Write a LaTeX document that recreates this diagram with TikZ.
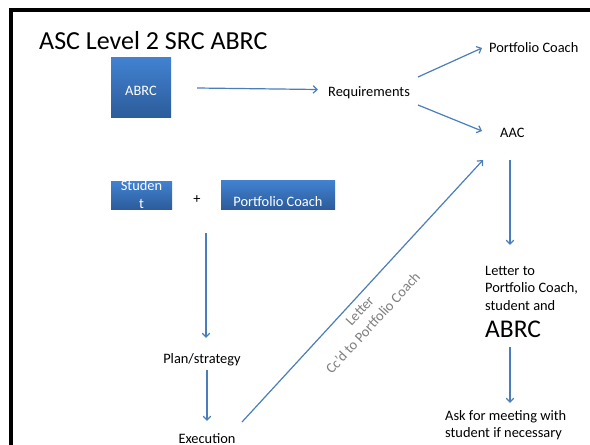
\documentclass[tikz,border=0pt]{standalone}
\usepackage{fontspec}
\setmainfont{Carlito}
\usetikzlibrary{arrows.meta,calc}
\definecolor{arr}{HTML}{4A7EBB}
\definecolor{boxtop}{HTML}{4282D2}
\definecolor{boxbot}{HTML}{2C5C9B}
\definecolor{lblgray}{HTML}{7F7F7F}
\tikzset{
  conn/.style={draw=arr, line width=1.2pt, -{Straight Barb[length=4pt,width=7.5pt]}},
  bluebox/.style={shade, top color=boxtop, bottom color=boxbot, text=white, inner sep=0pt, font=\fontsize{14.4}{18}\selectfont},
  txt/.style={inner sep=0pt, text=black, font=\fontsize{14.4}{17.5}\selectfont},
}
\begin{document}
\begin{tikzpicture}[x=1pt,y=-1pt]
\useasboundingbox (0,0) rectangle (590,445);
\fill[white] (0,0) rectangle (590,445);
% frame
\draw[line width=4pt, line join=miter] (11,445) -- (11,10) -- (590,10);
% title
\node[txt, anchor=base west, font=\fontsize{26}{30}\selectfont] (title) at (39,49.5) {ASC Level 2 SRC ABRC};
% boxes
\node[bluebox, minimum width=60pt, minimum height=60pt] (abrc) at (141,87) {\raisebox{-8.3pt}[0pt][0pt]{ABRC}};
\node[bluebox, minimum width=61pt, minimum height=28pt] (student) at (141.5,195) {\raisebox{5pt}[0pt][0pt]{\begin{tabular}[t]{@{}c@{}}Studen\\[0.5pt]t\end{tabular}}};
\node[bluebox, minimum width=114pt, minimum height=29pt] (pcbox) at (278,194.5) {\raisebox{-11.5pt}[0pt][0pt]{Portfolio Coach}};
\node[txt] (plus) at (197,200) {+};
% texts
\node[txt, anchor=base west] (req) at (328,96.5) {Requirements};
\node[txt, anchor=base west] (pc) at (489,52) {Portfolio Coach};
\node[txt, anchor=base west] (aac) at (500,137) {AAC};
\node[txt, anchor=base] (plan) at (202,363) {Plan/strategy};
\node[txt, anchor=base] (exec) at (207,443) {Execution};
\node[txt, anchor=base west] (letter) at (485,275) {\begin{tabular}[t]{@{}l@{}}Letter to\\Portfolio Coach,\\student and\\\rule{0pt}{22.5pt}{\fontsize{25.5}{28}\selectfont ABRC}\end{tabular}};
\node[txt, anchor=base west] (ask) at (445,420) {\begin{tabular}[t]{@{}l@{}}Ask for meeting with\\student if necessary\end{tabular}};
% arrows
\draw[conn] ($(abrc.east)+(26,1)$) -- ($(req.base west)+(-10,-7)$);
\draw[conn] ($(req.base west)+(90,-19.5)$) -- ($(pc.base west)+(-7,-4)$);
\draw[conn] ($(req.base west)+(90,8.5)$) -- ($(aac.base west)+(-18,-6)$);
\draw[conn] ($(aac.base west)+(10,23)$) -- ($(letter.base west)+(25,-30)$);
\draw[conn] ($(letter.base west)+(25,72)$) -- ($(ask.base west)+(65,-17)$);
\draw[conn] ($(plus.south)+(9,29)$) -- ($(plan.base)+(4,-25)$);
\draw[conn] ($(plan.base)+(5,7)$) -- ($(exec.base)+(0,-22)$);
\draw[conn] ($(exec.base)+(35,-21)$) -- ($(aac.base west)+(-17,23)$);
% rotated label
\node[inner sep=0pt, text=lblgray, rotate=47.4, align=center, font=\fontsize{14.4}{18}\selectfont] (lbl) at (366.5,317) {Letter\\Cc’d to Portfolio Coach};
\end{tikzpicture}
\end{document}
